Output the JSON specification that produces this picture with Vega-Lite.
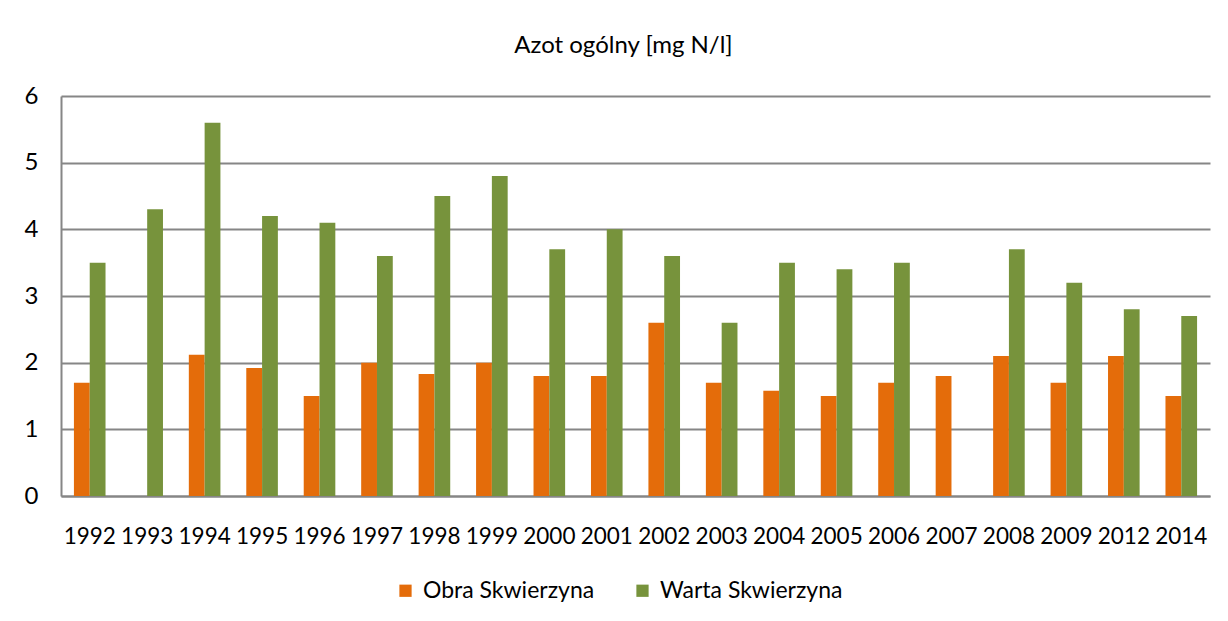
{
  "$schema": "https://vega.github.io/schema/vega-lite/v6.json",
  "autosize": {"type": "none"},
  "width": 1149,
  "height": 400,
  "padding": {"left": 61, "top": 96, "right": 18, "bottom": 125},
  "background": "white",
  "title": {
    "text": "Azot ogólny [mg N/l]",
    "font": "Lato",
    "fontSize": 24,
    "fontWeight": "normal",
    "color": "#000000",
    "anchor": "middle",
    "offset": 26,
    "dx": -12
  },
  "data": {
    "values": [
      {"year": "1992", "series": "Obra Skwierzyna", "value": 1.7},
      {"year": "1992", "series": "Warta Skwierzyna", "value": 3.5},
      {"year": "1993", "series": "Warta Skwierzyna", "value": 4.3},
      {"year": "1994", "series": "Obra Skwierzyna", "value": 2.12},
      {"year": "1994", "series": "Warta Skwierzyna", "value": 5.6},
      {"year": "1995", "series": "Obra Skwierzyna", "value": 1.92},
      {"year": "1995", "series": "Warta Skwierzyna", "value": 4.2},
      {"year": "1996", "series": "Obra Skwierzyna", "value": 1.5},
      {"year": "1996", "series": "Warta Skwierzyna", "value": 4.1},
      {"year": "1997", "series": "Obra Skwierzyna", "value": 2.0},
      {"year": "1997", "series": "Warta Skwierzyna", "value": 3.6},
      {"year": "1998", "series": "Obra Skwierzyna", "value": 1.83},
      {"year": "1998", "series": "Warta Skwierzyna", "value": 4.5},
      {"year": "1999", "series": "Obra Skwierzyna", "value": 2.0},
      {"year": "1999", "series": "Warta Skwierzyna", "value": 4.8},
      {"year": "2000", "series": "Obra Skwierzyna", "value": 1.8},
      {"year": "2000", "series": "Warta Skwierzyna", "value": 3.7},
      {"year": "2001", "series": "Obra Skwierzyna", "value": 1.8},
      {"year": "2001", "series": "Warta Skwierzyna", "value": 4.0},
      {"year": "2002", "series": "Obra Skwierzyna", "value": 2.6},
      {"year": "2002", "series": "Warta Skwierzyna", "value": 3.6},
      {"year": "2003", "series": "Obra Skwierzyna", "value": 1.7},
      {"year": "2003", "series": "Warta Skwierzyna", "value": 2.6},
      {"year": "2004", "series": "Obra Skwierzyna", "value": 1.58},
      {"year": "2004", "series": "Warta Skwierzyna", "value": 3.5},
      {"year": "2005", "series": "Obra Skwierzyna", "value": 1.5},
      {"year": "2005", "series": "Warta Skwierzyna", "value": 3.4},
      {"year": "2006", "series": "Obra Skwierzyna", "value": 1.7},
      {"year": "2006", "series": "Warta Skwierzyna", "value": 3.5},
      {"year": "2007", "series": "Obra Skwierzyna", "value": 1.8},
      {"year": "2008", "series": "Obra Skwierzyna", "value": 2.1},
      {"year": "2008", "series": "Warta Skwierzyna", "value": 3.7},
      {"year": "2009", "series": "Obra Skwierzyna", "value": 1.7},
      {"year": "2009", "series": "Warta Skwierzyna", "value": 3.2},
      {"year": "2012", "series": "Obra Skwierzyna", "value": 2.1},
      {"year": "2012", "series": "Warta Skwierzyna", "value": 2.8},
      {"year": "2014", "series": "Obra Skwierzyna", "value": 1.5},
      {"year": "2014", "series": "Warta Skwierzyna", "value": 2.7}
    ]
  },
  "mark": {"type": "bar"},
  "encoding": {
    "x": {
      "field": "year",
      "type": "nominal",
      "sort": null,
      "scale": {"paddingInner": 0.45, "paddingOuter": 0.225},
      "axis": {
        "title": null,
        "labelAngle": 0,
        "ticks": false,
        "domain": true,
        "domainColor": "#868686",
        "domainWidth": 2,
        "labelFont": "Lato",
        "labelFontSize": 22.5,
        "labelColor": "#000000",
        "labelPadding": 29,
        "labelOverlap": false
      }
    },
    "xOffset": {
      "field": "series",
      "type": "nominal",
      "scale": {"domain": ["Obra Skwierzyna", "Warta Skwierzyna"], "paddingInner": 0, "paddingOuter": 0}
    },
    "y": {
      "field": "value",
      "type": "quantitative",
      "scale": {"domain": [0, 6], "nice": false},
      "axis": {
        "title": null,
        "values": [0, 1, 2, 3, 4, 5, 6],
        "format": "d",
        "ticks": false,
        "domain": true,
        "domainColor": "#868686",
        "domainWidth": 2,
        "grid": true,
        "gridColor": "#868686",
        "gridWidth": 2,
        "labelFont": "Lato",
        "labelFontSize": 24,
        "labelColor": "#000000",
        "labelPadding": 23
      }
    },
    "color": {
      "field": "series",
      "type": "nominal",
      "scale": {"domain": ["Obra Skwierzyna", "Warta Skwierzyna"], "range": ["#E46C0A", "#77933C"]},
      "legend": {
        "title": null,
        "orient": "none",
        "legendX": 333,
        "legendY": 483,
        "direction": "horizontal",
        "symbolType": "square",
        "symbolSize": 150,
        "symbolStrokeWidth": 0,
        "labelFont": "Lato",
        "labelFontSize": 23,
        "labelColor": "#000000",
        "labelLimit": 0,
        "labelOffset": 6,
        "columnPadding": 36
      }
    }
  },
  "config": {
    "view": {"stroke": null}
  }
}
